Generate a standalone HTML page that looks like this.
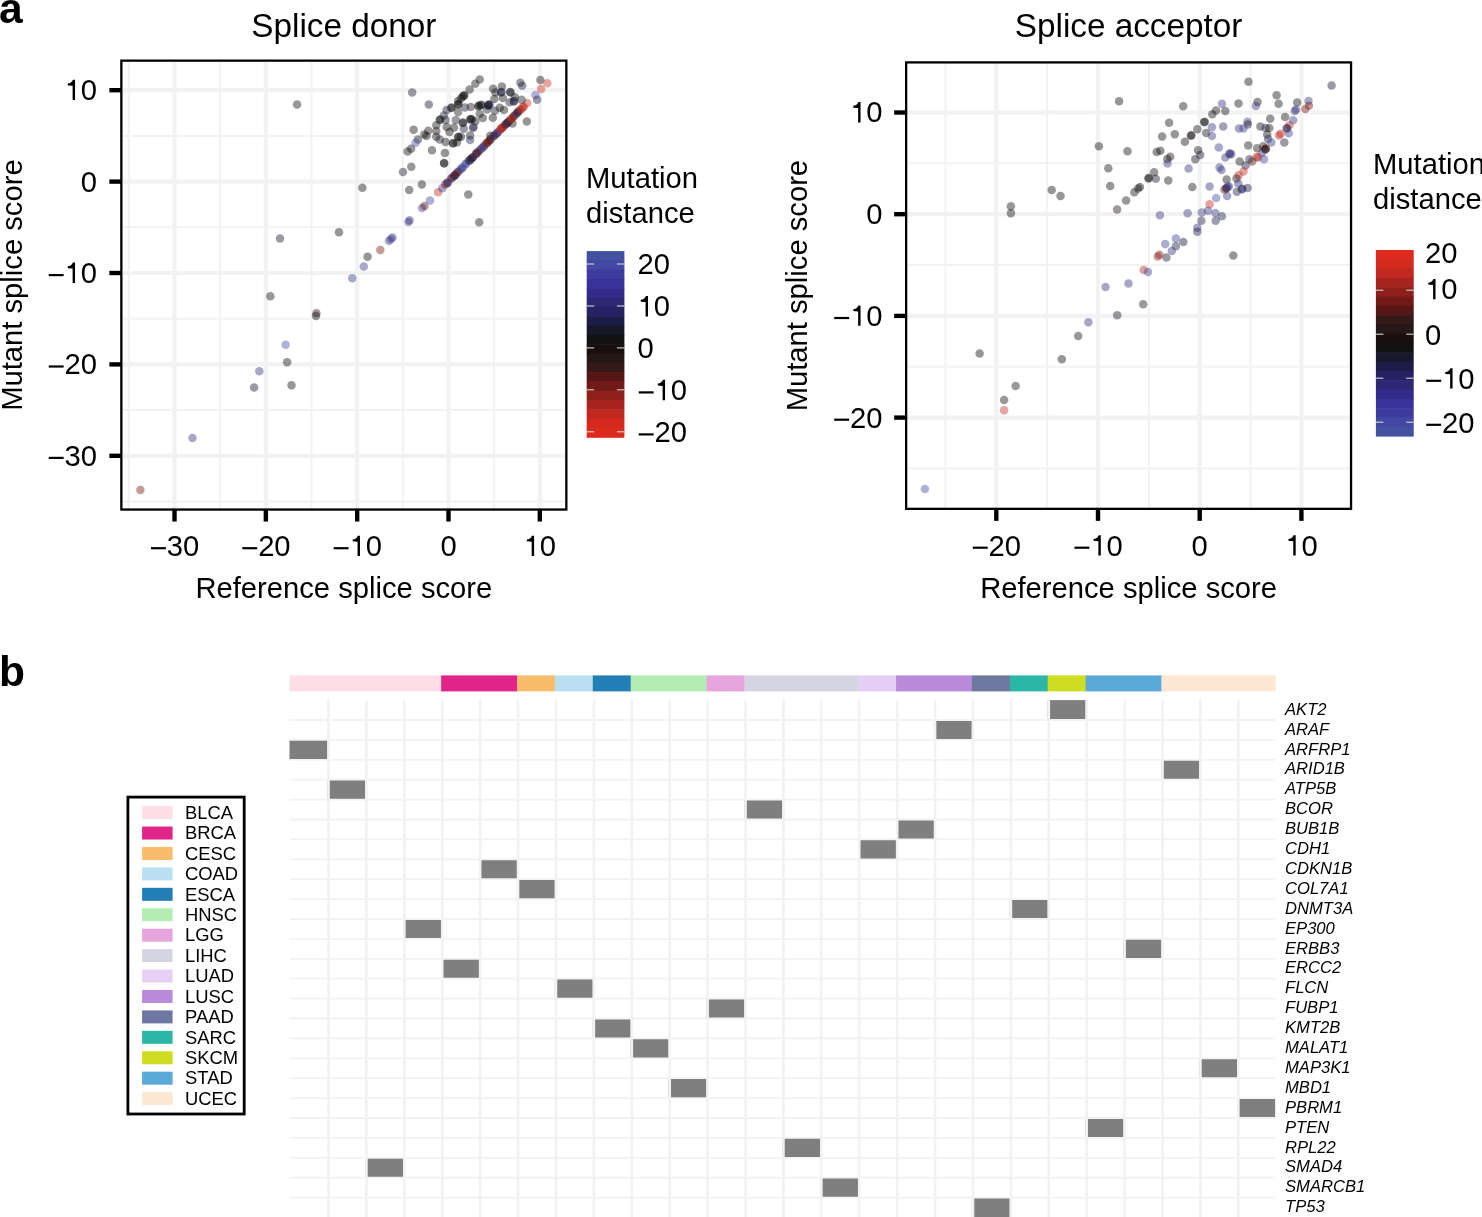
<!DOCTYPE html><html><head><meta charset="utf-8"><style>html,body{margin:0;padding:0;background:#fff;overflow:hidden}svg{display:block;will-change:transform}text{font-family:"Liberation Sans",sans-serif}</style></head><body>
<svg width="1482" height="1217" viewBox="0 0 1482 1217">
<rect width="1482" height="1217" fill="#fff"/>
<text x="-1" y="23" font-size="42.5" font-weight="bold">a</text>
<text x="-1" y="685.5" font-size="42.5" font-weight="bold">b</text>
<line x1="128.85" y1="60.65" x2="128.85" y2="509.55" stroke="#f2f2f2" stroke-width="2.0"/>
<line x1="220.18" y1="60.65" x2="220.18" y2="509.55" stroke="#f2f2f2" stroke-width="2.0"/>
<line x1="311.50" y1="60.65" x2="311.50" y2="509.55" stroke="#f2f2f2" stroke-width="2.0"/>
<line x1="402.84" y1="60.65" x2="402.84" y2="509.55" stroke="#f2f2f2" stroke-width="2.0"/>
<line x1="494.16" y1="60.65" x2="494.16" y2="509.55" stroke="#f2f2f2" stroke-width="2.0"/>
<line x1="121.35" y1="135.90" x2="566.35" y2="135.90" stroke="#f2f2f2" stroke-width="2.0"/>
<line x1="121.35" y1="227.30" x2="566.35" y2="227.30" stroke="#f2f2f2" stroke-width="2.0"/>
<line x1="121.35" y1="318.70" x2="566.35" y2="318.70" stroke="#f2f2f2" stroke-width="2.0"/>
<line x1="121.35" y1="410.10" x2="566.35" y2="410.10" stroke="#f2f2f2" stroke-width="2.0"/>
<line x1="121.35" y1="501.50" x2="566.35" y2="501.50" stroke="#f2f2f2" stroke-width="2.0"/>
<line x1="174.51" y1="60.65" x2="174.51" y2="509.55" stroke="#f2f2f2" stroke-width="4.2"/>
<line x1="265.84" y1="60.65" x2="265.84" y2="509.55" stroke="#f2f2f2" stroke-width="4.2"/>
<line x1="357.17" y1="60.65" x2="357.17" y2="509.55" stroke="#f2f2f2" stroke-width="4.2"/>
<line x1="448.50" y1="60.65" x2="448.50" y2="509.55" stroke="#f2f2f2" stroke-width="4.2"/>
<line x1="539.83" y1="60.65" x2="539.83" y2="509.55" stroke="#f2f2f2" stroke-width="4.2"/>
<line x1="121.35" y1="90.20" x2="566.35" y2="90.20" stroke="#f2f2f2" stroke-width="4.2"/>
<line x1="121.35" y1="181.60" x2="566.35" y2="181.60" stroke="#f2f2f2" stroke-width="4.2"/>
<line x1="121.35" y1="273.00" x2="566.35" y2="273.00" stroke="#f2f2f2" stroke-width="4.2"/>
<line x1="121.35" y1="364.40" x2="566.35" y2="364.40" stroke="#f2f2f2" stroke-width="4.2"/>
<line x1="121.35" y1="455.80" x2="566.35" y2="455.80" stroke="#f2f2f2" stroke-width="4.2"/>
<g fill-opacity="0.44">
<circle cx="140.4" cy="490.1" r="4.25" fill="#7c1c18"/>
<circle cx="192.5" cy="438.0" r="4.25" fill="#383680"/>
<circle cx="254.1" cy="387.4" r="4.25" fill="#191a35"/>
<circle cx="259.3" cy="371.2" r="4.25" fill="#383680"/>
<circle cx="285.6" cy="344.8" r="4.25" fill="#4850aa"/>
<circle cx="287.1" cy="362.3" r="4.25" fill="#121212"/>
<circle cx="291.5" cy="385.2" r="4.25" fill="#121212"/>
<circle cx="280.0" cy="238.6" r="4.25" fill="#17182c"/>
<circle cx="270.3" cy="296.2" r="4.25" fill="#121212"/>
<circle cx="316.4" cy="313.2" r="4.25" fill="#281715"/>
<circle cx="316.0" cy="316.0" r="4.25" fill="#121212"/>
<circle cx="339.0" cy="232.2" r="4.25" fill="#121212"/>
<circle cx="362.4" cy="187.7" r="4.25" fill="#121212"/>
<circle cx="367.6" cy="256.7" r="4.25" fill="#121212"/>
<circle cx="352.2" cy="278.3" r="4.25" fill="#3c3b8b"/>
<circle cx="363.8" cy="266.6" r="4.25" fill="#3a3885"/>
<circle cx="380.3" cy="250.1" r="4.25" fill="#7c1c18"/>
<circle cx="389.0" cy="240.7" r="4.25" fill="#383680"/>
<circle cx="391.0" cy="239.0" r="4.25" fill="#383680"/>
<circle cx="392.5" cy="237.5" r="4.25" fill="#3c3b8b"/>
<circle cx="408.5" cy="222.0" r="4.25" fill="#36337a"/>
<circle cx="409.5" cy="220.3" r="4.25" fill="#383680"/>
<circle cx="403.0" cy="171.9" r="4.25" fill="#17182c"/>
<circle cx="411.3" cy="166.7" r="4.25" fill="#121212"/>
<circle cx="409.2" cy="190.0" r="4.25" fill="#121212"/>
<circle cx="421.9" cy="184.4" r="4.25" fill="#121212"/>
<circle cx="297.1" cy="104.5" r="4.25" fill="#121212"/>
<circle cx="479.2" cy="222.2" r="4.25" fill="#121212"/>
<circle cx="468.3" cy="194.6" r="4.25" fill="#121212"/>
<circle cx="422.0" cy="208.1" r="4.25" fill="#404297"/>
<circle cx="424.5" cy="206.0" r="4.25" fill="#541917"/>
<circle cx="430.0" cy="200.4" r="4.25" fill="#43479d"/>
<circle cx="438.1" cy="192.3" r="4.25" fill="#c32c22"/>
<circle cx="442.3" cy="188.2" r="4.25" fill="#383680"/>
<circle cx="447.5" cy="182.8" r="4.25" fill="#3a1816"/>
<circle cx="447.0" cy="183.5" r="4.25" fill="#343074"/>
<circle cx="451.0" cy="178.5" r="4.25" fill="#8a1f1a"/>
<circle cx="454.6" cy="175.4" r="4.25" fill="#202049"/>
<circle cx="455.3" cy="175.0" r="4.25" fill="#541917"/>
<circle cx="458.1" cy="171.9" r="4.25" fill="#191a35"/>
<circle cx="462.7" cy="167.3" r="4.25" fill="#383680"/>
<circle cx="466.0" cy="163.4" r="4.25" fill="#43479d"/>
<circle cx="470.0" cy="159.6" r="4.25" fill="#1b1c3e"/>
<circle cx="472.6" cy="157.5" r="4.25" fill="#202049"/>
<circle cx="477.2" cy="152.6" r="4.25" fill="#541917"/>
<circle cx="476.0" cy="153.8" r="4.25" fill="#2a285e"/>
<circle cx="481.1" cy="148.7" r="4.25" fill="#3a1816"/>
<circle cx="483.8" cy="146.0" r="4.25" fill="#383680"/>
<circle cx="486.5" cy="143.3" r="4.25" fill="#3a1816"/>
<circle cx="489.0" cy="140.8" r="4.25" fill="#6e1a17"/>
<circle cx="491.2" cy="138.6" r="4.25" fill="#343074"/>
<circle cx="494.0" cy="135.9" r="4.25" fill="#3a1816"/>
<circle cx="497.6" cy="132.4" r="4.25" fill="#343074"/>
<circle cx="500.4" cy="129.6" r="4.25" fill="#b9281f"/>
<circle cx="502.2" cy="127.8" r="4.25" fill="#a6241d"/>
<circle cx="505.2" cy="124.8" r="4.25" fill="#8a1f1a"/>
<circle cx="506.8" cy="123.2" r="4.25" fill="#202049"/>
<circle cx="508.9" cy="121.1" r="4.25" fill="#252454"/>
<circle cx="511.0" cy="119.0" r="4.25" fill="#a6241d"/>
<circle cx="513.7" cy="116.3" r="4.25" fill="#6e1a17"/>
<circle cx="516.0" cy="114.0" r="4.25" fill="#383680"/>
<circle cx="518.0" cy="112.0" r="4.25" fill="#3a1816"/>
<circle cx="520.2" cy="109.8" r="4.25" fill="#b9281f"/>
<circle cx="522.8" cy="107.2" r="4.25" fill="#be2a20"/>
<circle cx="527.1" cy="102.9" r="4.25" fill="#cd3024"/>
<circle cx="535.3" cy="94.9" r="4.25" fill="#4850aa"/>
<circle cx="541.1" cy="89.0" r="4.25" fill="#cd3024"/>
<circle cx="547.3" cy="83.2" r="4.25" fill="#cd3024"/>
<circle cx="537.1" cy="99.8" r="4.25" fill="#202049"/>
<circle cx="412.2" cy="92.4" r="4.25" fill="#17182c"/>
<circle cx="428.8" cy="104.6" r="4.25" fill="#17182c"/>
<circle cx="413.6" cy="129.8" r="4.25" fill="#121212"/>
<circle cx="428.3" cy="130.7" r="4.25" fill="#121212"/>
<circle cx="424.3" cy="134.4" r="4.25" fill="#121212"/>
<circle cx="426.5" cy="136.0" r="4.25" fill="#121212"/>
<circle cx="417.9" cy="139.6" r="4.25" fill="#121212"/>
<circle cx="415.6" cy="142.7" r="4.25" fill="#454ba4"/>
<circle cx="411.1" cy="148.8" r="4.25" fill="#121212"/>
<circle cx="407.6" cy="151.6" r="4.25" fill="#121212"/>
<circle cx="432.0" cy="150.2" r="4.25" fill="#121212"/>
<circle cx="444.9" cy="153.1" r="4.25" fill="#121212"/>
<circle cx="444.0" cy="163.1" r="4.25" fill="#121212"/>
<circle cx="444.2" cy="163.6" r="4.25" fill="#121212"/>
<circle cx="436.3" cy="125.2" r="4.25" fill="#121212"/>
<circle cx="439.7" cy="120.1" r="4.25" fill="#121212"/>
<circle cx="440.2" cy="119.5" r="4.25" fill="#121212"/>
<circle cx="436.3" cy="131.0" r="4.25" fill="#1d1414"/>
<circle cx="436.3" cy="136.7" r="4.25" fill="#121212"/>
<circle cx="439.7" cy="139.6" r="4.25" fill="#17182c"/>
<circle cx="446.6" cy="127.0" r="4.25" fill="#121212"/>
<circle cx="445.5" cy="120.1" r="4.25" fill="#17182c"/>
<circle cx="445.5" cy="141.9" r="4.25" fill="#121212"/>
<circle cx="452.9" cy="143.6" r="4.25" fill="#121212"/>
<circle cx="453.3" cy="143.0" r="4.25" fill="#121212"/>
<circle cx="457.0" cy="142.4" r="4.25" fill="#1d1414"/>
<circle cx="458.1" cy="136.7" r="4.25" fill="#121212"/>
<circle cx="458.6" cy="137.2" r="4.25" fill="#121212"/>
<circle cx="461.0" cy="136.7" r="4.25" fill="#121212"/>
<circle cx="455.8" cy="120.1" r="4.25" fill="#17182c"/>
<circle cx="462.7" cy="122.9" r="4.25" fill="#121212"/>
<circle cx="463.2" cy="122.4" r="4.25" fill="#121212"/>
<circle cx="463.8" cy="128.7" r="4.25" fill="#17182c"/>
<circle cx="470.7" cy="118.9" r="4.25" fill="#121212"/>
<circle cx="470.2" cy="119.4" r="4.25" fill="#121212"/>
<circle cx="473.0" cy="128.1" r="4.25" fill="#202049"/>
<circle cx="470.1" cy="135.6" r="4.25" fill="#121212"/>
<circle cx="470.1" cy="140.1" r="4.25" fill="#252454"/>
<circle cx="458.1" cy="112.0" r="4.25" fill="#1d1414"/>
<circle cx="451.2" cy="108.0" r="4.25" fill="#121212"/>
<circle cx="451.8" cy="107.4" r="4.25" fill="#121212"/>
<circle cx="458.1" cy="104.6" r="4.25" fill="#121212"/>
<circle cx="458.6" cy="104.0" r="4.25" fill="#121212"/>
<circle cx="465.0" cy="107.5" r="4.25" fill="#17182c"/>
<circle cx="470.7" cy="106.9" r="4.25" fill="#1d1414"/>
<circle cx="478.2" cy="106.3" r="4.25" fill="#121212"/>
<circle cx="478.7" cy="105.7" r="4.25" fill="#121212"/>
<circle cx="475.3" cy="121.2" r="4.25" fill="#121212"/>
<circle cx="443.8" cy="115.5" r="4.25" fill="#17182c"/>
<circle cx="446.6" cy="110.1" r="4.25" fill="#191a35"/>
<circle cx="463.8" cy="95.8" r="4.25" fill="#121212"/>
<circle cx="464.4" cy="95.2" r="4.25" fill="#121212"/>
<circle cx="462.6" cy="96.6" r="4.25" fill="#121212"/>
<circle cx="461.0" cy="98.5" r="4.25" fill="#121212"/>
<circle cx="458.0" cy="101.0" r="4.25" fill="#121212"/>
<circle cx="469.6" cy="89.5" r="4.25" fill="#121212"/>
<circle cx="475.3" cy="83.8" r="4.25" fill="#121212"/>
<circle cx="479.7" cy="79.6" r="4.25" fill="#121212"/>
<circle cx="493.1" cy="88.8" r="4.25" fill="#121212"/>
<circle cx="501.9" cy="86.4" r="4.25" fill="#121212"/>
<circle cx="495.5" cy="92.5" r="4.25" fill="#121212"/>
<circle cx="501.0" cy="92.5" r="4.25" fill="#1b1c3e"/>
<circle cx="501.5" cy="92.0" r="4.25" fill="#1b1c3e"/>
<circle cx="510.1" cy="91.9" r="4.25" fill="#121212"/>
<circle cx="510.6" cy="92.4" r="4.25" fill="#121212"/>
<circle cx="502.8" cy="97.9" r="4.25" fill="#121212"/>
<circle cx="494.3" cy="99.1" r="4.25" fill="#121212"/>
<circle cx="514.9" cy="97.3" r="4.25" fill="#121212"/>
<circle cx="521.6" cy="99.8" r="4.25" fill="#17182c"/>
<circle cx="513.7" cy="101.6" r="4.25" fill="#191a35"/>
<circle cx="514.2" cy="101.1" r="4.25" fill="#191a35"/>
<circle cx="509.5" cy="102.2" r="4.25" fill="#17182c"/>
<circle cx="520.4" cy="82.8" r="4.25" fill="#17182c"/>
<circle cx="522.2" cy="85.8" r="4.25" fill="#1b1c3e"/>
<circle cx="540.4" cy="80.0" r="4.25" fill="#121212"/>
<circle cx="526.8" cy="121.6" r="4.25" fill="#121212"/>
<circle cx="512.5" cy="123.4" r="4.25" fill="#121212"/>
<circle cx="488.8" cy="105.2" r="4.25" fill="#191a35"/>
<circle cx="488.4" cy="104.8" r="4.25" fill="#17182c"/>
<circle cx="489.4" cy="104.6" r="4.25" fill="#191a35"/>
<circle cx="488.2" cy="105.8" r="4.25" fill="#191a35"/>
<circle cx="480.9" cy="105.2" r="4.25" fill="#121212"/>
<circle cx="481.4" cy="104.7" r="4.25" fill="#121212"/>
<circle cx="499.8" cy="107.7" r="4.25" fill="#121212"/>
<circle cx="504.0" cy="110.1" r="4.25" fill="#121212"/>
<circle cx="494.9" cy="110.7" r="4.25" fill="#17182c"/>
<circle cx="487.0" cy="109.5" r="4.25" fill="#17182c"/>
<circle cx="479.7" cy="113.7" r="4.25" fill="#121212"/>
<circle cx="482.8" cy="118.0" r="4.25" fill="#121212"/>
<circle cx="492.8" cy="117.7" r="4.25" fill="#121212"/>
<circle cx="471.8" cy="119.2" r="4.25" fill="#121212"/>
<circle cx="473.6" cy="127.1" r="4.25" fill="#202049"/>
<circle cx="490.3" cy="135.8" r="4.25" fill="#121212"/>
<circle cx="449.5" cy="132.0" r="4.25" fill="#121212"/>
<circle cx="454.0" cy="127.5" r="4.25" fill="#121212"/>
<circle cx="445.2" cy="184.6" r="4.25" fill="#8a1f1a"/>
<circle cx="447.8" cy="182.4" r="4.25" fill="#383680"/>
<circle cx="451.9" cy="178.1" r="4.25" fill="#2a285e"/>
<circle cx="453.6" cy="176.6" r="4.25" fill="#541917"/>
<circle cx="455.4" cy="174.8" r="4.25" fill="#2f2c69"/>
<circle cx="457.1" cy="172.6" r="4.25" fill="#6e1a17"/>
<circle cx="460.0" cy="169.7" r="4.25" fill="#3c3b8b"/>
<circle cx="462.0" cy="168.4" r="4.25" fill="#383680"/>
<circle cx="465.5" cy="164.4" r="4.25" fill="#454ba4"/>
<circle cx="468.8" cy="161.1" r="4.25" fill="#202049"/>
<circle cx="470.2" cy="160.2" r="4.25" fill="#252454"/>
<circle cx="471.8" cy="158.3" r="4.25" fill="#3a1816"/>
<circle cx="473.2" cy="157.1" r="4.25" fill="#202049"/>
<circle cx="475.8" cy="154.2" r="4.25" fill="#6e1a17"/>
<circle cx="477.5" cy="152.7" r="4.25" fill="#343074"/>
<circle cx="479.2" cy="150.7" r="4.25" fill="#541917"/>
<circle cx="482.0" cy="148.2" r="4.25" fill="#3c3b8b"/>
<circle cx="484.0" cy="146.4" r="4.25" fill="#383680"/>
<circle cx="486.8" cy="143.3" r="4.25" fill="#6e1a17"/>
<circle cx="488.5" cy="141.8" r="4.25" fill="#7c1c18"/>
<circle cx="490.2" cy="140.1" r="4.25" fill="#541917"/>
<circle cx="494.0" cy="135.8" r="4.25" fill="#383680"/>
<circle cx="496.0" cy="134.3" r="4.25" fill="#3a1816"/>
<circle cx="498.0" cy="132.2" r="4.25" fill="#343074"/>
<circle cx="500.7" cy="129.3" r="4.25" fill="#b9281f"/>
<circle cx="502.0" cy="127.7" r="4.25" fill="#b4261e"/>
<circle cx="503.3" cy="127.1" r="4.25" fill="#a6241d"/>
<circle cx="505.7" cy="124.4" r="4.25" fill="#2a285e"/>
<circle cx="507.0" cy="123.3" r="4.25" fill="#6e1a17"/>
<circle cx="508.3" cy="122.1" r="4.25" fill="#252454"/>
<circle cx="510.8" cy="119.4" r="4.25" fill="#a6241d"/>
<circle cx="512.5" cy="117.9" r="4.25" fill="#b4261e"/>
<circle cx="514.2" cy="115.8" r="4.25" fill="#611a17"/>
<circle cx="516.8" cy="113.6" r="4.25" fill="#383680"/>
<circle cx="518.2" cy="111.8" r="4.25" fill="#3a1816"/>
<circle cx="521.2" cy="109.2" r="4.25" fill="#be2a20"/>
<circle cx="523.8" cy="106.7" r="4.25" fill="#b9281f"/>
</g>
<rect x="121.35" y="60.65" width="445.00" height="448.90" fill="none" stroke="#000" stroke-width="2.3"/>
<line x1="174.51" y1="509.55" x2="174.51" y2="521.55" stroke="#000" stroke-width="4.4"/>
<rect x="151.00" y="547.11" width="14.89" height="2.19"/><text x="166.80" y="556.00" font-size="29.2">3</text><text x="183.04" y="556.00" font-size="29.2">0</text>
<line x1="265.84" y1="509.55" x2="265.84" y2="521.55" stroke="#000" stroke-width="4.4"/>
<rect x="242.33" y="547.11" width="14.89" height="2.19"/><text x="258.13" y="556.00" font-size="29.2">2</text><text x="274.37" y="556.00" font-size="29.2">0</text>
<line x1="357.17" y1="509.55" x2="357.17" y2="521.55" stroke="#000" stroke-width="4.4"/>
<rect x="333.66" y="547.11" width="14.89" height="2.19"/><path d="M357.55,541.69 L352.70,541.31 L352.70,539.41 C355.01,539.21 357.11,537.90 357.84,535.65 L359.97,535.65 L359.97,556.00 L357.55,556.00 Z"/><text x="365.70" y="556.00" font-size="29.2">0</text>
<line x1="448.50" y1="509.55" x2="448.50" y2="521.55" stroke="#000" stroke-width="4.4"/>
<text x="440.38" y="556.00" font-size="29.2">0</text>
<line x1="539.83" y1="509.55" x2="539.83" y2="521.55" stroke="#000" stroke-width="4.4"/>
<path d="M531.68,541.69 L526.84,541.31 L526.84,539.41 C529.14,539.21 531.25,537.90 531.98,535.65 L534.11,535.65 L534.11,556.00 L531.68,556.00 Z"/><text x="539.83" y="556.00" font-size="29.2">0</text>
<line x1="109.35" y1="90.20" x2="121.35" y2="90.20" stroke="#000" stroke-width="4.4"/>
<path d="M72.62,85.79 L67.77,85.41 L67.77,83.51 C70.08,83.31 72.18,82.00 72.91,79.75 L75.04,79.75 L75.04,100.10 L72.62,100.10 Z"/><text x="80.76" y="100.10" font-size="29.2">0</text>
<line x1="109.35" y1="181.60" x2="121.35" y2="181.60" stroke="#000" stroke-width="4.4"/>
<text x="80.76" y="191.50" font-size="29.2">0</text>
<line x1="109.35" y1="273.00" x2="121.35" y2="273.00" stroke="#000" stroke-width="4.4"/>
<rect x="48.73" y="274.01" width="14.89" height="2.19"/><path d="M72.62,268.59 L67.77,268.21 L67.77,266.31 C70.08,266.11 72.18,264.80 72.91,262.55 L75.04,262.55 L75.04,282.90 L72.62,282.90 Z"/><text x="80.76" y="282.90" font-size="29.2">0</text>
<line x1="109.35" y1="364.40" x2="121.35" y2="364.40" stroke="#000" stroke-width="4.4"/>
<rect x="48.73" y="365.41" width="14.89" height="2.19"/><text x="64.53" y="374.30" font-size="29.2">2</text><text x="80.76" y="374.30" font-size="29.2">0</text>
<line x1="109.35" y1="455.80" x2="121.35" y2="455.80" stroke="#000" stroke-width="4.4"/>
<rect x="48.73" y="456.81" width="14.89" height="2.19"/><text x="64.53" y="465.70" font-size="29.2">3</text><text x="80.76" y="465.70" font-size="29.2">0</text>
<text x="343.85" y="37.4" font-size="33.3" text-anchor="middle">Splice donor</text>
<text x="343.85" y="597.7" font-size="29.2" text-anchor="middle">Reference splice score</text>
<text transform="translate(22.2,285.10) rotate(-90)" font-size="29.2" text-anchor="middle">Mutant splice score</text>
<line x1="945.45" y1="62.4" x2="945.45" y2="508.85" stroke="#f2f2f2" stroke-width="2.0"/>
<line x1="1047.15" y1="62.4" x2="1047.15" y2="508.85" stroke="#f2f2f2" stroke-width="2.0"/>
<line x1="1148.85" y1="62.4" x2="1148.85" y2="508.85" stroke="#f2f2f2" stroke-width="2.0"/>
<line x1="1250.55" y1="62.4" x2="1250.55" y2="508.85" stroke="#f2f2f2" stroke-width="2.0"/>
<line x1="906.15" y1="163.35" x2="1351.05" y2="163.35" stroke="#f2f2f2" stroke-width="2.0"/>
<line x1="906.15" y1="265.05" x2="1351.05" y2="265.05" stroke="#f2f2f2" stroke-width="2.0"/>
<line x1="906.15" y1="366.75" x2="1351.05" y2="366.75" stroke="#f2f2f2" stroke-width="2.0"/>
<line x1="906.15" y1="468.45" x2="1351.05" y2="468.45" stroke="#f2f2f2" stroke-width="2.0"/>
<line x1="996.30" y1="62.4" x2="996.30" y2="508.85" stroke="#f2f2f2" stroke-width="4.2"/>
<line x1="1098.00" y1="62.4" x2="1098.00" y2="508.85" stroke="#f2f2f2" stroke-width="4.2"/>
<line x1="1199.70" y1="62.4" x2="1199.70" y2="508.85" stroke="#f2f2f2" stroke-width="4.2"/>
<line x1="1301.40" y1="62.4" x2="1301.40" y2="508.85" stroke="#f2f2f2" stroke-width="4.2"/>
<line x1="906.15" y1="112.50" x2="1351.05" y2="112.50" stroke="#f2f2f2" stroke-width="4.2"/>
<line x1="906.15" y1="214.20" x2="1351.05" y2="214.20" stroke="#f2f2f2" stroke-width="4.2"/>
<line x1="906.15" y1="315.90" x2="1351.05" y2="315.90" stroke="#f2f2f2" stroke-width="4.2"/>
<line x1="906.15" y1="417.60" x2="1351.05" y2="417.60" stroke="#f2f2f2" stroke-width="4.2"/>
<g fill-opacity="0.44">
<circle cx="1119.1" cy="101.3" r="4.25" fill="#121212"/>
<circle cx="1098.9" cy="146.3" r="4.25" fill="#121212"/>
<circle cx="1127.5" cy="151.3" r="4.25" fill="#121212"/>
<circle cx="1108.3" cy="168.2" r="4.25" fill="#121212"/>
<circle cx="1110.2" cy="186.0" r="4.25" fill="#121212"/>
<circle cx="1051.7" cy="189.9" r="4.25" fill="#121212"/>
<circle cx="1060.5" cy="195.9" r="4.25" fill="#121212"/>
<circle cx="1010.9" cy="206.2" r="4.25" fill="#121212"/>
<circle cx="1010.9" cy="213.3" r="4.25" fill="#121212"/>
<circle cx="1126.1" cy="200.6" r="4.25" fill="#1d1414"/>
<circle cx="1117.1" cy="209.6" r="4.25" fill="#1d1414"/>
<circle cx="1105.5" cy="286.9" r="4.25" fill="#383680"/>
<circle cx="1128.5" cy="283.6" r="4.25" fill="#383680"/>
<circle cx="1183.2" cy="106.2" r="4.25" fill="#121212"/>
<circle cx="1169.1" cy="122.8" r="4.25" fill="#121212"/>
<circle cx="1162.1" cy="136.6" r="4.25" fill="#121212"/>
<circle cx="1174.8" cy="134.3" r="4.25" fill="#121212"/>
<circle cx="1184.9" cy="141.8" r="4.25" fill="#121212"/>
<circle cx="1190.9" cy="135.7" r="4.25" fill="#121212"/>
<circle cx="1191.4" cy="135.2" r="4.25" fill="#121212"/>
<circle cx="1197.3" cy="129.2" r="4.25" fill="#1d1414"/>
<circle cx="1204.2" cy="122.3" r="4.25" fill="#121212"/>
<circle cx="1204.7" cy="121.8" r="4.25" fill="#121212"/>
<circle cx="1212.3" cy="114.2" r="4.25" fill="#121212"/>
<circle cx="1216.0" cy="110.6" r="4.25" fill="#1d1414"/>
<circle cx="1222.0" cy="103.7" r="4.25" fill="#383680"/>
<circle cx="1225.3" cy="111.0" r="4.25" fill="#121212"/>
<circle cx="1238.5" cy="103.6" r="4.25" fill="#121212"/>
<circle cx="1211.9" cy="127.2" r="4.25" fill="#383680"/>
<circle cx="1206.2" cy="132.9" r="4.25" fill="#121212"/>
<circle cx="1211.9" cy="136.1" r="4.25" fill="#383680"/>
<circle cx="1223.2" cy="126.4" r="4.25" fill="#2a285e"/>
<circle cx="1218.8" cy="147.4" r="4.25" fill="#383680"/>
<circle cx="1229.3" cy="154.3" r="4.25" fill="#383680"/>
<circle cx="1230.0" cy="153.3" r="4.25" fill="#36337a"/>
<circle cx="1225.3" cy="157.5" r="4.25" fill="#383680"/>
<circle cx="1198.1" cy="150.3" r="4.25" fill="#121212"/>
<circle cx="1200.2" cy="155.1" r="4.25" fill="#191a35"/>
<circle cx="1195.3" cy="159.2" r="4.25" fill="#121212"/>
<circle cx="1156.7" cy="152.0" r="4.25" fill="#121212"/>
<circle cx="1160.4" cy="150.8" r="4.25" fill="#121212"/>
<circle cx="1170.2" cy="156.7" r="4.25" fill="#1d1414"/>
<circle cx="1167.3" cy="159.0" r="4.25" fill="#121212"/>
<circle cx="1167.5" cy="163.6" r="4.25" fill="#383680"/>
<circle cx="1239.0" cy="128.4" r="4.25" fill="#383680"/>
<circle cx="1248.5" cy="81.7" r="4.25" fill="#121212"/>
<circle cx="1331.6" cy="85.5" r="4.25" fill="#191a35"/>
<circle cx="1276.6" cy="95.2" r="4.25" fill="#121212"/>
<circle cx="1257.5" cy="101.9" r="4.25" fill="#121212"/>
<circle cx="1255.9" cy="106.1" r="4.25" fill="#383680"/>
<circle cx="1278.6" cy="103.7" r="4.25" fill="#121212"/>
<circle cx="1297.2" cy="102.5" r="4.25" fill="#121212"/>
<circle cx="1308.5" cy="100.9" r="4.25" fill="#383680"/>
<circle cx="1308.9" cy="105.7" r="4.25" fill="#6e1a17"/>
<circle cx="1305.3" cy="109.0" r="4.25" fill="#7c1c18"/>
<circle cx="1294.8" cy="111.0" r="4.25" fill="#343074"/>
<circle cx="1296.0" cy="109.5" r="4.25" fill="#383680"/>
<circle cx="1285.1" cy="117.1" r="4.25" fill="#121212"/>
<circle cx="1293.2" cy="120.3" r="4.25" fill="#383680"/>
<circle cx="1289.5" cy="125.2" r="4.25" fill="#b9281f"/>
<circle cx="1286.7" cy="128.4" r="4.25" fill="#3a1816"/>
<circle cx="1287.0" cy="128.0" r="4.25" fill="#2a285e"/>
<circle cx="1288.7" cy="133.3" r="4.25" fill="#3c3b8b"/>
<circle cx="1279.0" cy="135.5" r="4.25" fill="#be2a20"/>
<circle cx="1280.6" cy="133.8" r="4.25" fill="#b9281f"/>
<circle cx="1284.3" cy="142.6" r="4.25" fill="#191a35"/>
<circle cx="1270.2" cy="118.7" r="4.25" fill="#121212"/>
<circle cx="1260.4" cy="126.4" r="4.25" fill="#121212"/>
<circle cx="1265.6" cy="128.0" r="4.25" fill="#202049"/>
<circle cx="1269.3" cy="128.0" r="4.25" fill="#121212"/>
<circle cx="1267.2" cy="134.5" r="4.25" fill="#121212"/>
<circle cx="1268.1" cy="138.9" r="4.25" fill="#202049"/>
<circle cx="1271.3" cy="142.6" r="4.25" fill="#3c3b8b"/>
<circle cx="1247.4" cy="121.8" r="4.25" fill="#383680"/>
<circle cx="1247.8" cy="124.6" r="4.25" fill="#17182c"/>
<circle cx="1243.4" cy="128.4" r="4.25" fill="#3c3b8b"/>
<circle cx="1248.2" cy="145.4" r="4.25" fill="#121212"/>
<circle cx="1257.1" cy="148.2" r="4.25" fill="#1d1414"/>
<circle cx="1263.2" cy="146.2" r="4.25" fill="#1d1414"/>
<circle cx="1265.6" cy="149.0" r="4.25" fill="#541917"/>
<circle cx="1266.0" cy="148.6" r="4.25" fill="#541917"/>
<circle cx="1265.0" cy="149.4" r="4.25" fill="#121212"/>
<circle cx="1262.0" cy="152.7" r="4.25" fill="#343074"/>
<circle cx="1256.7" cy="157.1" r="4.25" fill="#c32c22"/>
<circle cx="1258.0" cy="157.5" r="4.25" fill="#a6241d"/>
<circle cx="1264.0" cy="159.2" r="4.25" fill="#404297"/>
<circle cx="1231.2" cy="154.3" r="4.25" fill="#343074"/>
<circle cx="1249.4" cy="159.2" r="4.25" fill="#202049"/>
<circle cx="1239.7" cy="161.5" r="4.25" fill="#121212"/>
<circle cx="1252.1" cy="161.4" r="4.25" fill="#541917"/>
<circle cx="1245.5" cy="165.5" r="4.25" fill="#191a35"/>
<circle cx="1243.5" cy="171.6" r="4.25" fill="#c32c22"/>
<circle cx="1238.6" cy="175.3" r="4.25" fill="#b9281f"/>
<circle cx="1236.5" cy="178.6" r="4.25" fill="#281715"/>
<circle cx="1238.2" cy="183.6" r="4.25" fill="#343074"/>
<circle cx="1241.8" cy="189.3" r="4.25" fill="#2a285e"/>
<circle cx="1242.3" cy="188.8" r="4.25" fill="#2a285e"/>
<circle cx="1247.6" cy="188.1" r="4.25" fill="#202049"/>
<circle cx="1236.9" cy="191.8" r="4.25" fill="#202049"/>
<circle cx="1226.6" cy="179.5" r="4.25" fill="#121212"/>
<circle cx="1226.3" cy="188.5" r="4.25" fill="#3a1816"/>
<circle cx="1226.5" cy="188.0" r="4.25" fill="#202049"/>
<circle cx="1229.1" cy="186.4" r="4.25" fill="#383680"/>
<circle cx="1227.1" cy="195.9" r="4.25" fill="#383680"/>
<circle cx="1219.5" cy="167.6" r="4.25" fill="#383680"/>
<circle cx="1221.5" cy="170.0" r="4.25" fill="#383680"/>
<circle cx="1224.4" cy="189.5" r="4.25" fill="#541917"/>
<circle cx="1227.7" cy="186.6" r="4.25" fill="#3c3b8b"/>
<circle cx="1154.1" cy="172.2" r="4.25" fill="#1d1414"/>
<circle cx="1148.4" cy="178.4" r="4.25" fill="#121212"/>
<circle cx="1148.9" cy="177.9" r="4.25" fill="#121212"/>
<circle cx="1155.8" cy="178.8" r="4.25" fill="#17182c"/>
<circle cx="1168.3" cy="180.6" r="4.25" fill="#121212"/>
<circle cx="1138.1" cy="188.6" r="4.25" fill="#121212"/>
<circle cx="1140.0" cy="187.0" r="4.25" fill="#121212"/>
<circle cx="1134.4" cy="192.3" r="4.25" fill="#121212"/>
<circle cx="1192.3" cy="187.0" r="4.25" fill="#121212"/>
<circle cx="1209.6" cy="186.6" r="4.25" fill="#383680"/>
<circle cx="1216.2" cy="198.1" r="4.25" fill="#454ba4"/>
<circle cx="1209.6" cy="204.2" r="4.25" fill="#c32c22"/>
<circle cx="1207.9" cy="210.8" r="4.25" fill="#383680"/>
<circle cx="1201.8" cy="212.5" r="4.25" fill="#383680"/>
<circle cx="1215.3" cy="212.9" r="4.25" fill="#383680"/>
<circle cx="1221.9" cy="216.2" r="4.25" fill="#202049"/>
<circle cx="1215.7" cy="220.7" r="4.25" fill="#202049"/>
<circle cx="1201.4" cy="220.7" r="4.25" fill="#202049"/>
<circle cx="1197.3" cy="227.7" r="4.25" fill="#383680"/>
<circle cx="1197.3" cy="231.8" r="4.25" fill="#202049"/>
<circle cx="1188.6" cy="168.5" r="4.25" fill="#383680"/>
<circle cx="1187.6" cy="213.3" r="4.25" fill="#383680"/>
<circle cx="1159.9" cy="215.3" r="4.25" fill="#383680"/>
<circle cx="1175.9" cy="238.4" r="4.25" fill="#404297"/>
<circle cx="1183.3" cy="242.1" r="4.25" fill="#191a35"/>
<circle cx="1165.2" cy="244.1" r="4.25" fill="#404297"/>
<circle cx="1175.9" cy="246.2" r="4.25" fill="#202049"/>
<circle cx="1171.8" cy="251.1" r="4.25" fill="#383680"/>
<circle cx="1159.4" cy="254.8" r="4.25" fill="#8a1f1a"/>
<circle cx="1157.7" cy="256.5" r="4.25" fill="#8a1f1a"/>
<circle cx="1166.4" cy="257.5" r="4.25" fill="#191a35"/>
<circle cx="1233.3" cy="255.4" r="4.25" fill="#121212"/>
<circle cx="1143.7" cy="270.0" r="4.25" fill="#b9281f"/>
<circle cx="1148.0" cy="272.1" r="4.25" fill="#404297"/>
<circle cx="1143.2" cy="304.2" r="4.25" fill="#161624"/>
<circle cx="1117.2" cy="315.3" r="4.25" fill="#161624"/>
<circle cx="1088.4" cy="322.3" r="4.25" fill="#383680"/>
<circle cx="1078.2" cy="336.0" r="4.25" fill="#121212"/>
<circle cx="1061.8" cy="359.3" r="4.25" fill="#121212"/>
<circle cx="979.6" cy="353.5" r="4.25" fill="#121212"/>
<circle cx="1015.6" cy="386.1" r="4.25" fill="#1d1414"/>
<circle cx="1004.1" cy="399.9" r="4.25" fill="#1d1414"/>
<circle cx="1004.1" cy="410.2" r="4.25" fill="#c32c22"/>
<circle cx="924.9" cy="489.1" r="4.25" fill="#454ba4"/>
</g>
<rect x="906.15" y="62.4" width="444.90" height="446.45" fill="none" stroke="#000" stroke-width="2.3"/>
<line x1="996.30" y1="508.85" x2="996.30" y2="520.85" stroke="#000" stroke-width="4.4"/>
<rect x="972.79" y="546.61" width="14.89" height="2.19"/><text x="988.59" y="555.50" font-size="29.2">2</text><text x="1004.83" y="555.50" font-size="29.2">0</text>
<line x1="1098.00" y1="508.85" x2="1098.00" y2="520.85" stroke="#000" stroke-width="4.4"/>
<rect x="1074.49" y="546.61" width="14.89" height="2.19"/><path d="M1098.38,541.19 L1093.53,540.81 L1093.53,538.91 C1095.84,538.71 1097.94,537.40 1098.67,535.15 L1100.80,535.15 L1100.80,555.50 L1098.38,555.50 Z"/><text x="1106.53" y="555.50" font-size="29.2">0</text>
<line x1="1199.70" y1="508.85" x2="1199.70" y2="520.85" stroke="#000" stroke-width="4.4"/>
<text x="1191.58" y="555.50" font-size="29.2">0</text>
<line x1="1301.40" y1="508.85" x2="1301.40" y2="520.85" stroke="#000" stroke-width="4.4"/>
<path d="M1293.25,541.19 L1288.41,540.81 L1288.41,538.91 C1290.71,538.71 1292.82,537.40 1293.55,535.15 L1295.68,535.15 L1295.68,555.50 L1293.25,555.50 Z"/><text x="1301.40" y="555.50" font-size="29.2">0</text>
<line x1="894.15" y1="112.50" x2="906.15" y2="112.50" stroke="#000" stroke-width="4.4"/>
<path d="M858.12,108.09 L853.27,107.71 L853.27,105.81 C855.58,105.61 857.68,104.30 858.41,102.05 L860.54,102.05 L860.54,122.40 L858.12,122.40 Z"/><text x="866.26" y="122.40" font-size="29.2">0</text>
<line x1="894.15" y1="214.20" x2="906.15" y2="214.20" stroke="#000" stroke-width="4.4"/>
<text x="866.26" y="224.10" font-size="29.2">0</text>
<line x1="894.15" y1="315.90" x2="906.15" y2="315.90" stroke="#000" stroke-width="4.4"/>
<rect x="834.23" y="316.91" width="14.89" height="2.19"/><path d="M858.12,311.49 L853.27,311.11 L853.27,309.21 C855.58,309.01 857.68,307.70 858.41,305.45 L860.54,305.45 L860.54,325.80 L858.12,325.80 Z"/><text x="866.26" y="325.80" font-size="29.2">0</text>
<line x1="894.15" y1="417.60" x2="906.15" y2="417.60" stroke="#000" stroke-width="4.4"/>
<rect x="834.23" y="418.61" width="14.89" height="2.19"/><text x="850.03" y="427.50" font-size="29.2">2</text><text x="866.26" y="427.50" font-size="29.2">0</text>
<text x="1128.60" y="37.2" font-size="33.3" text-anchor="middle">Splice acceptor</text>
<text x="1128.60" y="597.7" font-size="29.2" text-anchor="middle">Reference splice score</text>
<text transform="translate(807.1,285.62) rotate(-90)" font-size="29.2" text-anchor="middle">Mutant splice score</text>
<rect x="586.7" y="251.10" width="37.7" height="9.90" fill="#4450a0"/>
<rect x="586.7" y="260.40" width="37.7" height="9.90" fill="#4348a2"/>
<rect x="586.7" y="269.71" width="37.7" height="9.90" fill="#3d3c9e"/>
<rect x="586.7" y="279.01" width="37.7" height="9.90" fill="#37339a"/>
<rect x="586.7" y="288.32" width="37.7" height="9.90" fill="#332b8c"/>
<rect x="586.7" y="297.62" width="37.7" height="9.90" fill="#2d2774"/>
<rect x="586.7" y="306.93" width="37.7" height="9.90" fill="#262364"/>
<rect x="586.7" y="316.24" width="37.7" height="9.90" fill="#1b1d48"/>
<rect x="586.7" y="325.54" width="37.7" height="9.90" fill="#19182a"/>
<rect x="586.7" y="334.85" width="37.7" height="9.90" fill="#121212"/>
<rect x="586.7" y="344.15" width="37.7" height="9.90" fill="#180f0e"/>
<rect x="586.7" y="353.45" width="37.7" height="9.90" fill="#251816"/>
<rect x="586.7" y="362.76" width="37.7" height="9.90" fill="#341918"/>
<rect x="586.7" y="372.06" width="37.7" height="9.90" fill="#561616"/>
<rect x="586.7" y="381.37" width="37.7" height="9.90" fill="#711a17"/>
<rect x="586.7" y="390.67" width="37.7" height="9.90" fill="#8f1f1a"/>
<rect x="586.7" y="399.98" width="37.7" height="9.90" fill="#a8241e"/>
<rect x="586.7" y="409.28" width="37.7" height="9.90" fill="#c2281f"/>
<rect x="586.7" y="418.59" width="37.7" height="9.90" fill="#d4291d"/>
<rect x="586.7" y="427.89" width="37.7" height="9.90" fill="#dc2a1c"/>
<line x1="586.7" y1="264" x2="594.2" y2="264" stroke="#d4d4d4" stroke-width="1.1"/>
<line x1="616.9000000000001" y1="264" x2="624.4000000000001" y2="264" stroke="#d4d4d4" stroke-width="1.1"/>
<line x1="586.7" y1="306" x2="594.2" y2="306" stroke="#d4d4d4" stroke-width="1.1"/>
<line x1="616.9000000000001" y1="306" x2="624.4000000000001" y2="306" stroke="#d4d4d4" stroke-width="1.1"/>
<line x1="586.7" y1="347.9" x2="594.2" y2="347.9" stroke="#d4d4d4" stroke-width="1.1"/>
<line x1="616.9000000000001" y1="347.9" x2="624.4000000000001" y2="347.9" stroke="#d4d4d4" stroke-width="1.1"/>
<line x1="586.7" y1="389.8" x2="594.2" y2="389.8" stroke="#d4d4d4" stroke-width="1.1"/>
<line x1="616.9000000000001" y1="389.8" x2="624.4000000000001" y2="389.8" stroke="#d4d4d4" stroke-width="1.1"/>
<line x1="586.7" y1="431.8" x2="594.2" y2="431.8" stroke="#d4d4d4" stroke-width="1.1"/>
<line x1="616.9000000000001" y1="431.8" x2="624.4000000000001" y2="431.8" stroke="#d4d4d4" stroke-width="1.1"/>
<text x="637.50" y="274.40" font-size="29.2">2</text><text x="653.74" y="274.40" font-size="29.2">0</text>
<path d="M645.59,302.09 L640.74,301.71 L640.74,299.81 C643.05,299.61 645.15,298.30 645.88,296.05 L648.01,296.05 L648.01,316.40 L645.59,316.40 Z"/><text x="653.74" y="316.40" font-size="29.2">0</text>
<text x="637.50" y="358.30" font-size="29.2">0</text>
<rect x="638.76" y="391.31" width="14.89" height="2.19"/><path d="M662.64,385.89 L657.79,385.51 L657.79,383.61 C660.10,383.41 662.20,382.10 662.93,379.85 L665.06,379.85 L665.06,400.20 L662.64,400.20 Z"/><text x="670.79" y="400.20" font-size="29.2">0</text>
<rect x="638.76" y="433.31" width="14.89" height="2.19"/><text x="654.55" y="442.20" font-size="29.2">2</text><text x="670.79" y="442.20" font-size="29.2">0</text>
<text x="586" y="188" font-size="29.2">Mutation</text>
<text x="586" y="222.60" font-size="29.2">distance</text>
<rect x="1375.9" y="250.00" width="37.8" height="9.90" fill="#dc2a1c"/>
<rect x="1375.9" y="259.30" width="37.8" height="9.90" fill="#d4291d"/>
<rect x="1375.9" y="268.60" width="37.8" height="9.90" fill="#c2281f"/>
<rect x="1375.9" y="277.90" width="37.8" height="9.90" fill="#a8241e"/>
<rect x="1375.9" y="287.20" width="37.8" height="9.90" fill="#8f1f1a"/>
<rect x="1375.9" y="296.50" width="37.8" height="9.90" fill="#711a17"/>
<rect x="1375.9" y="305.80" width="37.8" height="9.90" fill="#561616"/>
<rect x="1375.9" y="315.10" width="37.8" height="9.90" fill="#341918"/>
<rect x="1375.9" y="324.40" width="37.8" height="9.90" fill="#251816"/>
<rect x="1375.9" y="333.70" width="37.8" height="9.90" fill="#180f0e"/>
<rect x="1375.9" y="343.00" width="37.8" height="9.90" fill="#121212"/>
<rect x="1375.9" y="352.30" width="37.8" height="9.90" fill="#19182a"/>
<rect x="1375.9" y="361.60" width="37.8" height="9.90" fill="#1b1d48"/>
<rect x="1375.9" y="370.90" width="37.8" height="9.90" fill="#262364"/>
<rect x="1375.9" y="380.20" width="37.8" height="9.90" fill="#2d2774"/>
<rect x="1375.9" y="389.50" width="37.8" height="9.90" fill="#332b8c"/>
<rect x="1375.9" y="398.80" width="37.8" height="9.90" fill="#37339a"/>
<rect x="1375.9" y="408.10" width="37.8" height="9.90" fill="#3d3c9e"/>
<rect x="1375.9" y="417.40" width="37.8" height="9.90" fill="#4348a2"/>
<rect x="1375.9" y="426.70" width="37.8" height="9.90" fill="#4450a0"/>
<line x1="1375.9" y1="290.2" x2="1383.4" y2="290.2" stroke="#d4d4d4" stroke-width="1.1"/>
<line x1="1406.2" y1="290.2" x2="1413.7" y2="290.2" stroke="#d4d4d4" stroke-width="1.1"/>
<line x1="1375.9" y1="334.2" x2="1383.4" y2="334.2" stroke="#d4d4d4" stroke-width="1.1"/>
<line x1="1406.2" y1="334.2" x2="1413.7" y2="334.2" stroke="#d4d4d4" stroke-width="1.1"/>
<line x1="1375.9" y1="378.2" x2="1383.4" y2="378.2" stroke="#d4d4d4" stroke-width="1.1"/>
<line x1="1406.2" y1="378.2" x2="1413.7" y2="378.2" stroke="#d4d4d4" stroke-width="1.1"/>
<line x1="1375.9" y1="422.2" x2="1383.4" y2="422.2" stroke="#d4d4d4" stroke-width="1.1"/>
<line x1="1406.2" y1="422.2" x2="1413.7" y2="422.2" stroke="#d4d4d4" stroke-width="1.1"/>
<text x="1425.00" y="262.80" font-size="29.2">2</text><text x="1441.24" y="262.80" font-size="29.2">0</text>
<path d="M1433.09,284.99 L1428.24,284.61 L1428.24,282.71 C1430.55,282.51 1432.65,281.20 1433.38,278.95 L1435.51,278.95 L1435.51,299.30 L1433.09,299.30 Z"/><text x="1441.24" y="299.30" font-size="29.2">0</text>
<text x="1425.00" y="344.60" font-size="29.2">0</text>
<rect x="1426.26" y="379.71" width="14.89" height="2.19"/><path d="M1450.14,374.29 L1445.29,373.91 L1445.29,372.01 C1447.60,371.81 1449.70,370.50 1450.43,368.25 L1452.56,368.25 L1452.56,388.60 L1450.14,388.60 Z"/><text x="1458.29" y="388.60" font-size="29.2">0</text>
<rect x="1426.26" y="423.71" width="14.89" height="2.19"/><text x="1442.05" y="432.60" font-size="29.2">2</text><text x="1458.29" y="432.60" font-size="29.2">0</text>
<text x="1373" y="174.4" font-size="29.2">Mutation</text>
<text x="1373" y="209.00" font-size="29.2">distance</text>
<rect x="289.50" y="675.4" width="152.04" height="16" fill="#fddde6"/>
<rect x="441.14" y="675.4" width="76.22" height="16" fill="#e0248a"/>
<rect x="516.96" y="675.4" width="38.31" height="16" fill="#f9bc6b"/>
<rect x="554.87" y="675.4" width="38.31" height="16" fill="#bbdff2"/>
<rect x="592.78" y="675.4" width="38.31" height="16" fill="#237fb5"/>
<rect x="630.69" y="675.4" width="76.22" height="16" fill="#b2edb3"/>
<rect x="706.51" y="675.4" width="38.31" height="16" fill="#e6a5dc"/>
<rect x="744.42" y="675.4" width="114.13" height="16" fill="#d4d4e3"/>
<rect x="858.15" y="675.4" width="38.31" height="16" fill="#e6cff4"/>
<rect x="896.06" y="675.4" width="76.22" height="16" fill="#b88ad9"/>
<rect x="971.88" y="675.4" width="38.31" height="16" fill="#6e78a0"/>
<rect x="1009.79" y="675.4" width="38.31" height="16" fill="#2cb6a6"/>
<rect x="1047.70" y="675.4" width="38.31" height="16" fill="#cedd22"/>
<rect x="1085.61" y="675.4" width="76.22" height="16" fill="#5aa9d6"/>
<rect x="1161.43" y="675.4" width="114.13" height="16" fill="#fee8d3"/>
<rect x="1047.70" y="700.10" width="37.91" height="19.90" fill="#7f7f7f"/>
<rect x="933.97" y="720.00" width="37.91" height="19.90" fill="#7f7f7f"/>
<rect x="289.50" y="739.90" width="37.91" height="19.90" fill="#7f7f7f"/>
<rect x="1161.43" y="759.80" width="37.91" height="19.90" fill="#7f7f7f"/>
<rect x="327.41" y="779.70" width="37.91" height="19.90" fill="#7f7f7f"/>
<rect x="744.42" y="799.60" width="37.91" height="19.90" fill="#7f7f7f"/>
<rect x="896.06" y="819.50" width="37.91" height="19.90" fill="#7f7f7f"/>
<rect x="858.15" y="839.40" width="37.91" height="19.90" fill="#7f7f7f"/>
<rect x="479.05" y="859.30" width="37.91" height="19.90" fill="#7f7f7f"/>
<rect x="516.96" y="879.20" width="37.91" height="19.90" fill="#7f7f7f"/>
<rect x="1009.79" y="899.10" width="37.91" height="19.90" fill="#7f7f7f"/>
<rect x="403.23" y="919.00" width="37.91" height="19.90" fill="#7f7f7f"/>
<rect x="1123.52" y="938.90" width="37.91" height="19.90" fill="#7f7f7f"/>
<rect x="441.14" y="958.80" width="37.91" height="19.90" fill="#7f7f7f"/>
<rect x="554.87" y="978.70" width="37.91" height="19.90" fill="#7f7f7f"/>
<rect x="706.51" y="998.60" width="37.91" height="19.90" fill="#7f7f7f"/>
<rect x="592.78" y="1018.50" width="37.91" height="19.90" fill="#7f7f7f"/>
<rect x="630.69" y="1038.40" width="37.91" height="19.90" fill="#7f7f7f"/>
<rect x="1199.34" y="1058.30" width="37.91" height="19.90" fill="#7f7f7f"/>
<rect x="668.60" y="1078.20" width="37.91" height="19.90" fill="#7f7f7f"/>
<rect x="1237.25" y="1098.10" width="37.91" height="19.90" fill="#7f7f7f"/>
<rect x="1085.61" y="1118.00" width="37.91" height="19.90" fill="#7f7f7f"/>
<rect x="782.33" y="1137.90" width="37.91" height="19.90" fill="#7f7f7f"/>
<rect x="365.32" y="1157.80" width="37.91" height="19.90" fill="#7f7f7f"/>
<rect x="820.24" y="1177.70" width="37.91" height="19.90" fill="#7f7f7f"/>
<rect x="971.88" y="1197.60" width="37.91" height="19.90" fill="#7f7f7f"/>
<line x1="328.51" y1="699.6" x2="328.51" y2="1217.5" stroke="#f2f2f2" stroke-width="2.6"/>
<line x1="366.42" y1="699.6" x2="366.42" y2="1217.5" stroke="#f2f2f2" stroke-width="2.6"/>
<line x1="404.33" y1="699.6" x2="404.33" y2="1217.5" stroke="#f2f2f2" stroke-width="2.6"/>
<line x1="442.24" y1="699.6" x2="442.24" y2="1217.5" stroke="#f2f2f2" stroke-width="2.6"/>
<line x1="480.15" y1="699.6" x2="480.15" y2="1217.5" stroke="#f2f2f2" stroke-width="2.6"/>
<line x1="518.06" y1="699.6" x2="518.06" y2="1217.5" stroke="#f2f2f2" stroke-width="2.6"/>
<line x1="555.97" y1="699.6" x2="555.97" y2="1217.5" stroke="#f2f2f2" stroke-width="2.6"/>
<line x1="593.88" y1="699.6" x2="593.88" y2="1217.5" stroke="#f2f2f2" stroke-width="2.6"/>
<line x1="631.79" y1="699.6" x2="631.79" y2="1217.5" stroke="#f2f2f2" stroke-width="2.6"/>
<line x1="669.70" y1="699.6" x2="669.70" y2="1217.5" stroke="#f2f2f2" stroke-width="2.6"/>
<line x1="707.61" y1="699.6" x2="707.61" y2="1217.5" stroke="#f2f2f2" stroke-width="2.6"/>
<line x1="745.52" y1="699.6" x2="745.52" y2="1217.5" stroke="#f2f2f2" stroke-width="2.6"/>
<line x1="783.43" y1="699.6" x2="783.43" y2="1217.5" stroke="#f2f2f2" stroke-width="2.6"/>
<line x1="821.34" y1="699.6" x2="821.34" y2="1217.5" stroke="#f2f2f2" stroke-width="2.6"/>
<line x1="859.25" y1="699.6" x2="859.25" y2="1217.5" stroke="#f2f2f2" stroke-width="2.6"/>
<line x1="897.16" y1="699.6" x2="897.16" y2="1217.5" stroke="#f2f2f2" stroke-width="2.6"/>
<line x1="935.07" y1="699.6" x2="935.07" y2="1217.5" stroke="#f2f2f2" stroke-width="2.6"/>
<line x1="972.98" y1="699.6" x2="972.98" y2="1217.5" stroke="#f2f2f2" stroke-width="2.6"/>
<line x1="1010.89" y1="699.6" x2="1010.89" y2="1217.5" stroke="#f2f2f2" stroke-width="2.6"/>
<line x1="1048.80" y1="699.6" x2="1048.80" y2="1217.5" stroke="#f2f2f2" stroke-width="2.6"/>
<line x1="1086.71" y1="699.6" x2="1086.71" y2="1217.5" stroke="#f2f2f2" stroke-width="2.6"/>
<line x1="1124.62" y1="699.6" x2="1124.62" y2="1217.5" stroke="#f2f2f2" stroke-width="2.6"/>
<line x1="1162.53" y1="699.6" x2="1162.53" y2="1217.5" stroke="#f2f2f2" stroke-width="2.6"/>
<line x1="1200.44" y1="699.6" x2="1200.44" y2="1217.5" stroke="#f2f2f2" stroke-width="2.6"/>
<line x1="1238.35" y1="699.6" x2="1238.35" y2="1217.5" stroke="#f2f2f2" stroke-width="2.6"/>
<line x1="289.5" y1="720.00" x2="1275.16" y2="720.00" stroke="#f2f2f2" stroke-width="1.8"/>
<line x1="289.5" y1="739.90" x2="1275.16" y2="739.90" stroke="#f2f2f2" stroke-width="1.8"/>
<line x1="289.5" y1="759.80" x2="1275.16" y2="759.80" stroke="#f2f2f2" stroke-width="1.8"/>
<line x1="289.5" y1="779.70" x2="1275.16" y2="779.70" stroke="#f2f2f2" stroke-width="1.8"/>
<line x1="289.5" y1="799.60" x2="1275.16" y2="799.60" stroke="#f2f2f2" stroke-width="1.8"/>
<line x1="289.5" y1="819.50" x2="1275.16" y2="819.50" stroke="#f2f2f2" stroke-width="1.8"/>
<line x1="289.5" y1="839.40" x2="1275.16" y2="839.40" stroke="#f2f2f2" stroke-width="1.8"/>
<line x1="289.5" y1="859.30" x2="1275.16" y2="859.30" stroke="#f2f2f2" stroke-width="1.8"/>
<line x1="289.5" y1="879.20" x2="1275.16" y2="879.20" stroke="#f2f2f2" stroke-width="1.8"/>
<line x1="289.5" y1="899.10" x2="1275.16" y2="899.10" stroke="#f2f2f2" stroke-width="1.8"/>
<line x1="289.5" y1="919.00" x2="1275.16" y2="919.00" stroke="#f2f2f2" stroke-width="1.8"/>
<line x1="289.5" y1="938.90" x2="1275.16" y2="938.90" stroke="#f2f2f2" stroke-width="1.8"/>
<line x1="289.5" y1="958.80" x2="1275.16" y2="958.80" stroke="#f2f2f2" stroke-width="1.8"/>
<line x1="289.5" y1="978.70" x2="1275.16" y2="978.70" stroke="#f2f2f2" stroke-width="1.8"/>
<line x1="289.5" y1="998.60" x2="1275.16" y2="998.60" stroke="#f2f2f2" stroke-width="1.8"/>
<line x1="289.5" y1="1018.50" x2="1275.16" y2="1018.50" stroke="#f2f2f2" stroke-width="1.8"/>
<line x1="289.5" y1="1038.40" x2="1275.16" y2="1038.40" stroke="#f2f2f2" stroke-width="1.8"/>
<line x1="289.5" y1="1058.30" x2="1275.16" y2="1058.30" stroke="#f2f2f2" stroke-width="1.8"/>
<line x1="289.5" y1="1078.20" x2="1275.16" y2="1078.20" stroke="#f2f2f2" stroke-width="1.8"/>
<line x1="289.5" y1="1098.10" x2="1275.16" y2="1098.10" stroke="#f2f2f2" stroke-width="1.8"/>
<line x1="289.5" y1="1118.00" x2="1275.16" y2="1118.00" stroke="#f2f2f2" stroke-width="1.8"/>
<line x1="289.5" y1="1137.90" x2="1275.16" y2="1137.90" stroke="#f2f2f2" stroke-width="1.8"/>
<line x1="289.5" y1="1157.80" x2="1275.16" y2="1157.80" stroke="#f2f2f2" stroke-width="1.8"/>
<line x1="289.5" y1="1177.70" x2="1275.16" y2="1177.70" stroke="#f2f2f2" stroke-width="1.8"/>
<line x1="289.5" y1="1197.60" x2="1275.16" y2="1197.60" stroke="#f2f2f2" stroke-width="1.8"/>
<text x="1285" y="714.70" font-size="16.6" font-style="italic">AKT2</text>
<text x="1285" y="734.60" font-size="16.6" font-style="italic">ARAF</text>
<text x="1285" y="754.50" font-size="16.6" font-style="italic">ARFRP1</text>
<text x="1285" y="774.40" font-size="16.6" font-style="italic">ARID1B</text>
<text x="1285" y="794.30" font-size="16.6" font-style="italic">ATP5B</text>
<text x="1285" y="814.20" font-size="16.6" font-style="italic">BCOR</text>
<text x="1285" y="834.10" font-size="16.6" font-style="italic">BUB1B</text>
<text x="1285" y="854.00" font-size="16.6" font-style="italic">CDH1</text>
<text x="1285" y="873.90" font-size="16.6" font-style="italic">CDKN1B</text>
<text x="1285" y="893.80" font-size="16.6" font-style="italic">COL7A1</text>
<text x="1285" y="913.70" font-size="16.6" font-style="italic">DNMT3A</text>
<text x="1285" y="933.60" font-size="16.6" font-style="italic">EP300</text>
<text x="1285" y="953.50" font-size="16.6" font-style="italic">ERBB3</text>
<text x="1285" y="973.40" font-size="16.6" font-style="italic">ERCC2</text>
<text x="1285" y="993.30" font-size="16.6" font-style="italic">FLCN</text>
<text x="1285" y="1013.20" font-size="16.6" font-style="italic">FUBP1</text>
<text x="1285" y="1033.10" font-size="16.6" font-style="italic">KMT2B</text>
<text x="1285" y="1053.00" font-size="16.6" font-style="italic">MALAT1</text>
<text x="1285" y="1072.90" font-size="16.6" font-style="italic">MAP3K1</text>
<text x="1285" y="1092.80" font-size="16.6" font-style="italic">MBD1</text>
<text x="1285" y="1112.70" font-size="16.6" font-style="italic">PBRM1</text>
<text x="1285" y="1132.60" font-size="16.6" font-style="italic">PTEN</text>
<text x="1285" y="1152.50" font-size="16.6" font-style="italic">RPL22</text>
<text x="1285" y="1172.40" font-size="16.6" font-style="italic">SMAD4</text>
<text x="1285" y="1192.30" font-size="16.6" font-style="italic">SMARCB1</text>
<text x="1285" y="1212.20" font-size="16.6" font-style="italic">TP53</text>
<rect x="127.9" y="797.1" width="116.3" height="316.9" fill="#fff" stroke="#000" stroke-width="2.8"/>
<rect x="142.1" y="806.10" width="30.5" height="13" fill="#fddde6"/>
<text x="185" y="818.80" font-size="18.4">BLCA</text>
<rect x="142.1" y="826.53" width="30.5" height="13" fill="#e0248a"/>
<text x="185" y="839.23" font-size="18.4">BRCA</text>
<rect x="142.1" y="846.96" width="30.5" height="13" fill="#f9bc6b"/>
<text x="185" y="859.66" font-size="18.4">CESC</text>
<rect x="142.1" y="867.39" width="30.5" height="13" fill="#bbdff2"/>
<text x="185" y="880.09" font-size="18.4">COAD</text>
<rect x="142.1" y="887.82" width="30.5" height="13" fill="#237fb5"/>
<text x="185" y="900.52" font-size="18.4">ESCA</text>
<rect x="142.1" y="908.25" width="30.5" height="13" fill="#b2edb3"/>
<text x="185" y="920.95" font-size="18.4">HNSC</text>
<rect x="142.1" y="928.68" width="30.5" height="13" fill="#e6a5dc"/>
<text x="185" y="941.38" font-size="18.4">LGG</text>
<rect x="142.1" y="949.11" width="30.5" height="13" fill="#d4d4e3"/>
<text x="185" y="961.81" font-size="18.4">LIHC</text>
<rect x="142.1" y="969.54" width="30.5" height="13" fill="#e6cff4"/>
<text x="185" y="982.24" font-size="18.4">LUAD</text>
<rect x="142.1" y="989.97" width="30.5" height="13" fill="#b88ad9"/>
<text x="185" y="1002.67" font-size="18.4">LUSC</text>
<rect x="142.1" y="1010.40" width="30.5" height="13" fill="#6e78a0"/>
<text x="185" y="1023.10" font-size="18.4">PAAD</text>
<rect x="142.1" y="1030.83" width="30.5" height="13" fill="#2cb6a6"/>
<text x="185" y="1043.53" font-size="18.4">SARC</text>
<rect x="142.1" y="1051.26" width="30.5" height="13" fill="#cedd22"/>
<text x="185" y="1063.96" font-size="18.4">SKCM</text>
<rect x="142.1" y="1071.69" width="30.5" height="13" fill="#5aa9d6"/>
<text x="185" y="1084.39" font-size="18.4">STAD</text>
<rect x="142.1" y="1092.12" width="30.5" height="13" fill="#fee8d3"/>
<text x="185" y="1104.82" font-size="18.4">UCEC</text>
</svg></body></html>
